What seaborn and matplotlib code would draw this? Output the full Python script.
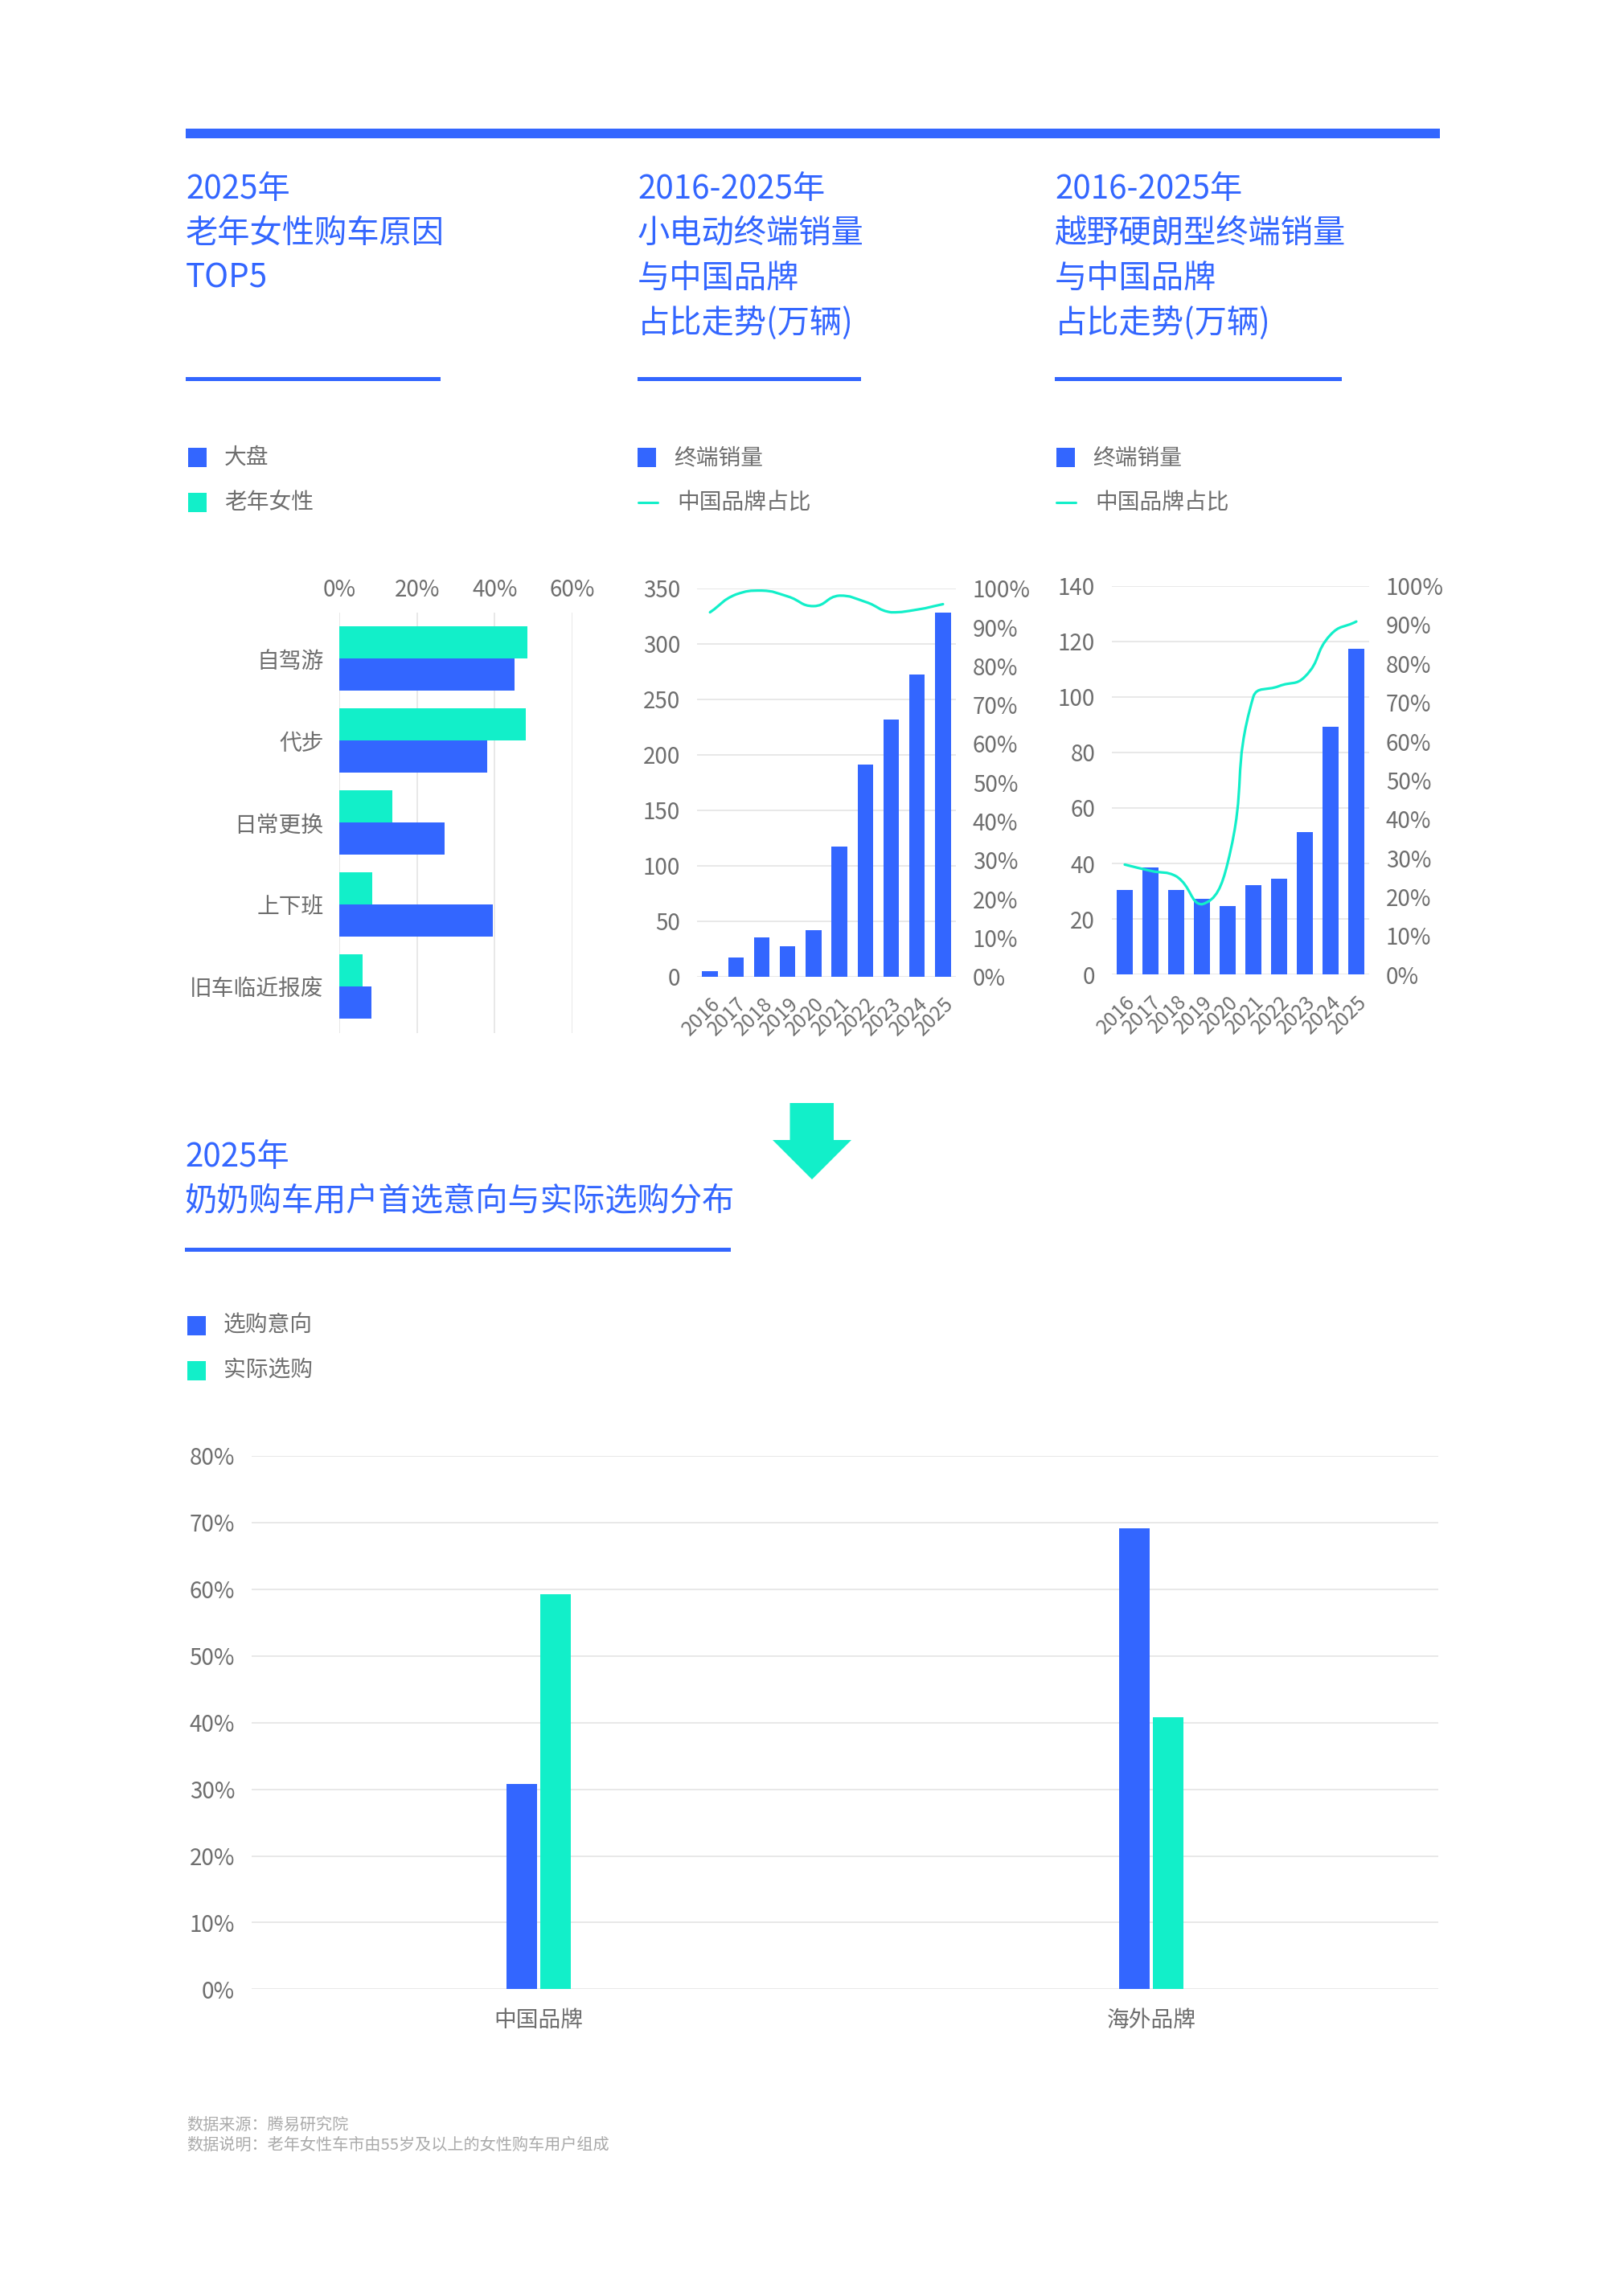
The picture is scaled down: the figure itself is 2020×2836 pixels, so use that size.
import numpy as np
import pandas as pd
import matplotlib
matplotlib.use("Agg")
import matplotlib.pyplot as plt
import seaborn as sns
from matplotlib.patches import Rectangle, Polygon, PathPatch
from matplotlib.path import Path
from matplotlib.lines import Line2D

sns.set_style("white")
plt.rcParams['font.family'] = ['Noto Sans CJK SC', 'DejaVu Sans']
plt.rcParams['font.weight'] = 'light'

BLUE = "#3366FF"
TEAL = "#12EFC9"
GRID = "#E6E6E6"
TICK = "#6E6E6E"
NOTE = "#AAAAAA"

# chart 1: reasons for buying (%)
reasons = ["自驾游", "代步", "日常更换", "上下班", "旧车临近报废"]
overall_pct = [45.0, 38.0, 27.1, 39.5, 8.2]
elderly_pct = [48.4, 47.9, 13.7, 8.4, 6.0]

# charts 2 and 3: yearly sales (10k units) and china-brand share (%)
years = [str(y) for y in range(2016, 2026)]
mini_ev_sales = [5, 17, 35, 27.4, 41.7, 117.4, 191, 232, 272, 328]
mini_ev_cn_share = [93.8, 98.4, 99.4, 97.9, 95.4, 98.1, 96.5, 93.8, 94.5, 95.9]
offroad_sales = [30.6, 38.5, 30.5, 27.2, 24.6, 32.2, 34.5, 51.3, 89.3, 117.2]
offroad_cn_share = [28.3, 26.7, 25.3, 18.1, 28.7, 71.5, 74.2, 76.6, 87.4, 90.8]

# chart 4: intent vs actual purchase (%)
brands = ["中国品牌", "海外品牌"]
intent_pct = [30.8, 69.2]
actual_pct = [59.2, 40.8]

W, H = 2020, 2836
fig = plt.figure(figsize=(W / 100, H / 100), dpi=100)
fig.patch.set_facecolor("white")

# overlay in pixel coords for titles, legends, decorations
ov = fig.add_axes([0, 0, 1, 1])
ov.set_xlim(0, W)
ov.set_ylim(H, 0)
ov.axis("off")


def add_px_axes(x0, y0, x1, y1):
    return fig.add_axes([x0 / W, 1 - y1 / H, (x1 - x0) / W, (y1 - y0) / H])


def clean(ax):
    for s in ax.spines.values():
        s.set_visible(False)
    ax.set_xlabel("")
    ax.set_ylabel("")
    ax.tick_params(length=0, labelsize=20, colors=TICK)


def smooth_line(ax, xs, ys, color, lw, smooth=0.5):
    # echarts-style bezier smoothing, done in display space
    pts = ax.transData.transform(np.column_stack([xs, ys]))
    n = len(pts)
    cin, cout = [None] * n, [None] * n
    for i in range(n):
        p = pts[i]
        prev = pts[i - 1] if i > 0 else p
        nxt = pts[i + 1] if i < n - 1 else p
        v = nxt - prev
        d0 = np.hypot(*(p - prev))
        d1 = np.hypot(*(nxt - p))
        r = d1 / (d0 + d1) if d0 + d1 > 0 else 0.5
        a = p - v * smooth * (1 - r)
        b = p + v * smooth * r
        if i < n - 1:
            b = np.clip(b, np.minimum(p, nxt), np.maximum(p, nxt))
        if i > 0:
            a = np.clip(a, np.minimum(p, prev), np.maximum(p, prev))
        cin[i], cout[i] = a, b
    verts = [pts[0]]
    codes = [Path.MOVETO]
    for i in range(n - 1):
        verts += [cout[i], cin[i + 1], pts[i + 1]]
        codes += [Path.CURVE4] * 3
    dv = ax.transData.inverted().transform(np.array(verts))
    ax.add_patch(PathPatch(Path(dv, codes), fill=False, edgecolor=color,
                           lw=lw, capstyle="round", zorder=5))


def title_block(x, y0, lines, step=55.5):
    for i, t in enumerate(lines):
        ov.text(x, y0 + i * step, t, color=BLUE, fontsize=29, va="center", ha="left")


def legend_square(x, y, color, label):
    ov.add_patch(Rectangle((x, y - 12), 23, 24, color=color, lw=0))
    ov.text(x + 45, y, label, color=TICK, fontsize=20, va="center", ha="left")


def legend_line(x, y, color, label):
    ov.add_line(Line2D([x, x + 24], [y, y], color=color, lw=2.2))
    ov.text(x + 48, y, label, color=TICK, fontsize=20, va="center", ha="left")


# header
ov.add_patch(Rectangle((231, 160), 1560, 12, color=BLUE, lw=0))

title_block(231, 235, ["2025年", "老年女性购车原因", "TOP5"])
title_block(793, 235, ["2016-2025年", "小电动终端销量", "与中国品牌", "占比走势(万辆)"])
title_block(1312, 235, ["2016-2025年", "越野硬朗型终端销量", "与中国品牌", "占比走势(万辆)"])
for x0, x1 in [(231, 548), (793, 1071), (1312, 1669)]:
    ov.add_patch(Rectangle((x0, 469), x1 - x0, 4.5, color=BLUE, lw=0))

legend_square(234, 569, BLUE, "大盘")
legend_square(234, 625, TEAL, "老年女性")
legend_square(793, 569, BLUE, "终端销量")
legend_line(794, 625, TEAL, "中国品牌占比")
legend_square(1314, 569, BLUE, "终端销量")
legend_line(1314, 625, TEAL, "中国品牌占比")

# chart 1
df1 = pd.DataFrame({
    "reason": reasons * 2,
    "group": ["大盘"] * 5 + ["老年女性"] * 5,
    "value": overall_pct + elderly_pct,
})
ax1 = add_px_axes(422, 762, 712, 1285)
sns.barplot(data=df1, x="value", y="reason", hue="group",
            hue_order=["老年女性", "大盘"], palette=[TEAL, BLUE],
            orient="h", width=0.78, saturation=1, linewidth=0,
            legend=False, ax=ax1)
ax1.set_xlim(0, 60)
ax1.set_ylim(4.57, -0.56)
ax1.set_xticks([0, 20, 40, 60])
ax1.set_xticklabels(["0%", "20%", "40%", "60%"])
ax1.xaxis.tick_top()
ax1.grid(axis="x", color=GRID, lw=1.3)
ax1.grid(axis="y", visible=False)
ax1.set_axisbelow(True)
clean(ax1)
ax1.tick_params(axis="y", pad=14)
ax1.tick_params(axis="x", pad=9)


def sales_chart(rect, sales, share, ymax, ystep):
    ax = add_px_axes(*rect)
    sns.barplot(x=years, y=sales, color=BLUE, saturation=1, width=0.6,
                linewidth=0, ax=ax)
    ax.set_xlim(-0.5, 9.5)
    ax.set_ylim(0, ymax)
    ax.set_yticks(np.arange(0, ymax + 1, ystep))
    ax.grid(axis="y", color=GRID, lw=1.3)
    ax.grid(axis="x", visible=False)
    ax.set_axisbelow(True)
    clean(ax)
    ax.tick_params(axis="y", pad=15)
    ax.set_xticks(range(len(years)))
    ax.set_xticklabels(years, rotation=45, ha="right", rotation_mode="anchor",
                       fontsize=18)
    ax.tick_params(axis="x", pad=15)
    axr = ax.twinx()
    axr.set_ylim(0, 100)
    axr.set_yticks(range(0, 101, 10))
    axr.set_yticklabels([f"{v}%" for v in range(0, 101, 10)])
    clean(axr)
    axr.tick_params(axis="y", pad=15)
    smooth_line(axr, np.arange(len(years)), share, TEAL, 2.3)
    return ax


sales_chart((867, 731.7, 1189, 1214.7), mini_ev_sales, mini_ev_cn_share, 350, 50)
sales_chart((1383, 728.6, 1703, 1212.3), offroad_sales, offroad_cn_share, 140, 20)

# arrow
ov.add_patch(Polygon([(982.5, 1372), (1037, 1372), (1037, 1418), (1059, 1418),
                      (1010, 1467), (961, 1418), (982.5, 1418)],
                     closed=True, color=TEAL, lw=0))

# bottom section
title_block(230, 1440, ["2025年", "奶奶购车用户首选意向与实际选购分布"], step=55)
ov.add_patch(Rectangle((230, 1552), 679, 4.5, color=BLUE, lw=0))
legend_square(233, 1649, BLUE, "选购意向")
legend_square(233, 1705, TEAL, "实际选购")

df4 = pd.DataFrame({
    "brand": brands * 2,
    "type": ["选购意向"] * 2 + ["实际选购"] * 2,
    "value": intent_pct + actual_pct,
})
ax4 = add_px_axes(313, 1811, 1789, 2474.4)
sns.barplot(data=df4, x="brand", y="value", hue="type",
            palette=[BLUE, TEAL], width=0.11, gap=0.08, saturation=1,
            linewidth=0, legend=False, ax=ax4)
ax4.set_xlim(-0.4685, 1.4685)
ax4.set_ylim(0, 80)
ax4.set_yticks(range(0, 81, 10))
ax4.set_yticklabels([f"{v}%" for v in range(0, 81, 10)])
ax4.grid(axis="y", color=GRID, lw=1.3)
ax4.grid(axis="x", visible=False)
ax4.set_axisbelow(True)
clean(ax4)
ax4.tick_params(axis="y", pad=15)
ax4.tick_params(axis="x", pad=17)

# footnote
ov.text(232, 2643, "数据来源：腾易研究院", color=NOTE, fontsize=14.5, va="center")
ov.text(232, 2668, "数据说明：老年女性车市由55岁及以上的女性购车用户组成",
        color=NOTE, fontsize=14.5, va="center")

fig.savefig("out.png", dpi=100, facecolor="white")
